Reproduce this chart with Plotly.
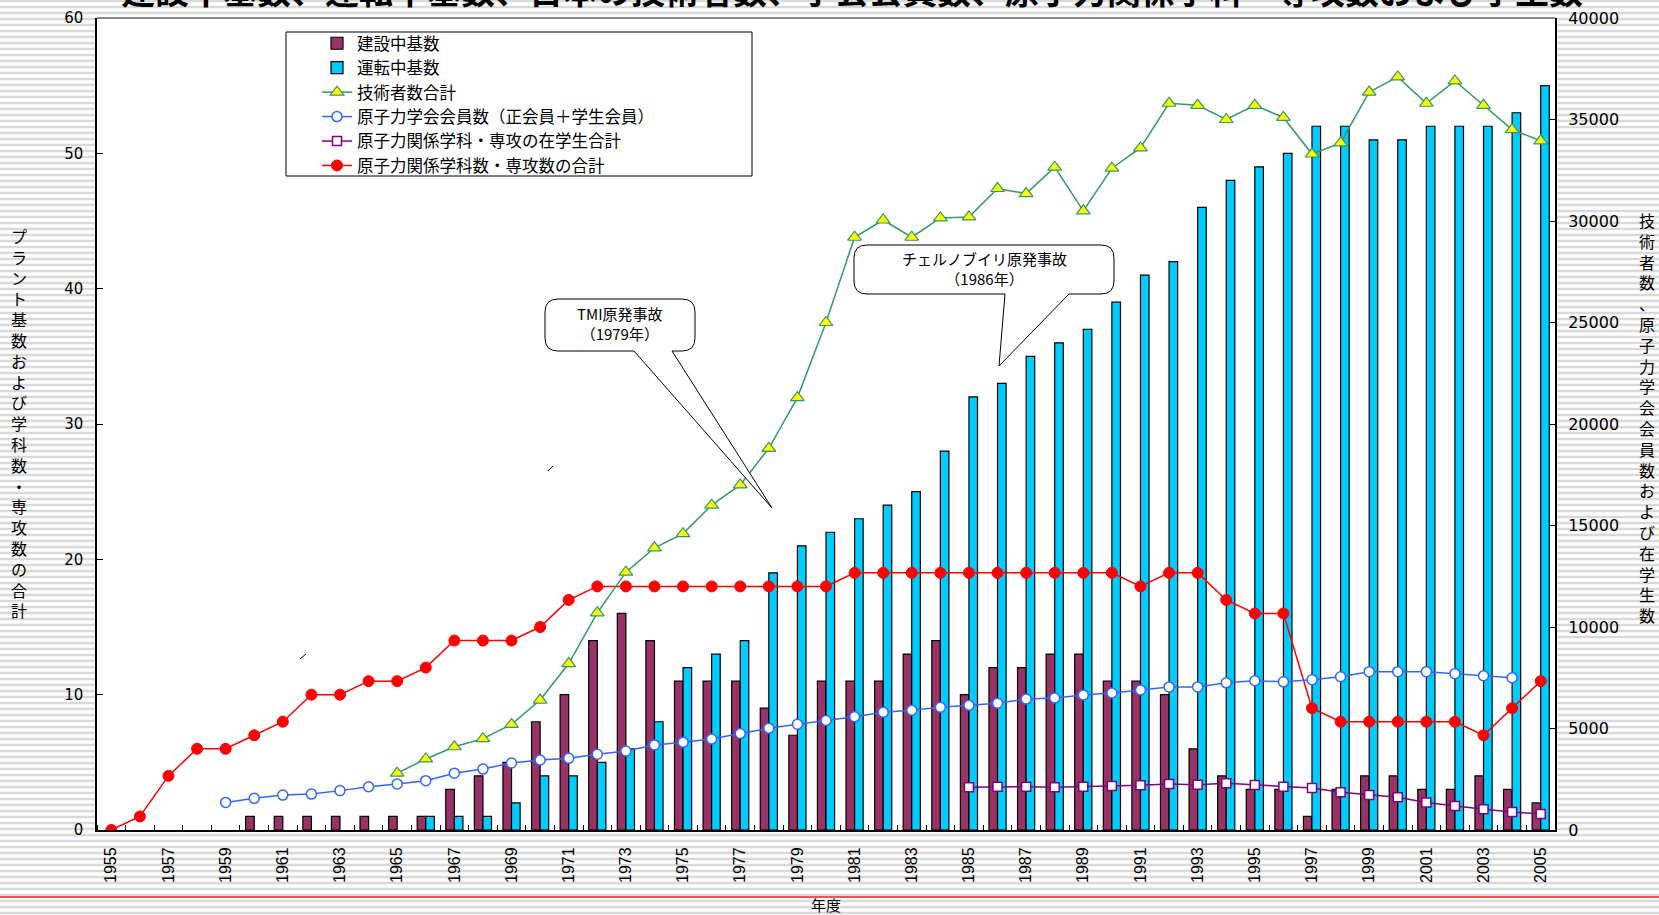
import plotly.graph_objects as go

# ---------------- data ----------------
years = list(range(1955, 2006))
under_construction = [None] * 5 + [
    1, 1, 1, 1, 1, 1, 1, 3, 4, 5,
    8, 10, 14, 16, 14, 11, 11, 11, 9, 7,
    11, 11, 11, 13, 14, 10, 12, 12, 13, 13,
    11, 11, 10, 6, 4, 3, 3, 1, 3, 4,
    4, 3, 3, 4, 3, 2]
in_operation = [None] * 11 + [
    1, 1, 1, 2,
    4, 4, 5, 6, 8, 12, 13, 14, 19, 21,
    22, 23, 24, 25, 28, 32, 33, 35, 36, 37,
    39, 41, 42, 46, 48, 49, 50, 52, 52, 51,
    51, 52, 52, 52, 53, 55]
engineer_years = years[10:]          # 1965-2005
engineers = [2800, 3500, 4100, 4500, 5200,
             6400, 8200, 10700, 12700, 13900, 14600, 16000, 17000, 18800, 21300,
             25000, 29200, 30050, 29200, 30150, 30200, 31600, 31350, 32650, 30500,
             32600, 33600, 35800, 35700, 35000, 35700, 35100, 33300, 33850, 36350,
             37100, 35800, 36900, 35700, 34500, 33950]
member_years = years[4:50]           # 1959-2004
members = [1360, 1560, 1720, 1770, 1940, 2130, 2270, 2430, 2800, 3000, 3300,
           3450, 3530, 3730, 3890, 4190, 4320, 4480, 4750, 5010, 5210,
           5390, 5580, 5800, 5900, 6050, 6150, 6250, 6450, 6500, 6650,
           6750, 6900, 7050, 7050, 7250, 7350, 7300, 7400, 7550, 7800,
           7800, 7800, 7700, 7600, 7500]
student_years = years[30:]           # 1985-2005
students = [2100, 2130, 2130, 2100, 2130, 2170, 2200, 2270, 2230, 2300,
            2220, 2130, 2070, 1860, 1720, 1610, 1350, 1180, 1020, 890, 790]
departments = [0, 1, 4, 6, 6, 7, 8, 10, 10, 11,
               11, 12, 14, 14, 14, 15, 17, 18, 18, 18,
               18, 18, 18, 18, 18, 18, 19, 19, 19, 19,
               19, 19, 19, 19, 19, 19, 18, 19, 19, 17,
               16, 16, 9, 8, 8, 8, 8, 8, 7, 9, 11]
tick_years = years[::2]
tick_labels = [str(y) for y in tick_years]

title_text = "建設中基数、運転中基数、日本の技術者数、学会会員数、原子力関係学科・専攻数および学生数"
left_title = "プラント基数および学科数・専攻数の合計"
right_title = "技術者数、原子力学会会員数および在学生数"

# ---------------- layout helpers ----------------
W, H = 1659, 915
PL, PR, PT, PB = 97, 1555, 18, 830


def px(x):
    return (x - PL) / (PR - PL)


def py(y):
    return (PB - y) / (PB - PT)


JP = "Noto Sans CJK JP"
NUM = "DejaVu Sans"

fig = go.Figure()
fig.add_trace(go.Bar(name="建設中基数", x=years, y=under_construction,
                     marker=dict(color="#993366", line=dict(color="black", width=1.2))))
fig.add_trace(go.Bar(name="運転中基数", x=years, y=in_operation,
                     marker=dict(color="#00CCFF", line=dict(color="black", width=1.2))))
fig.add_trace(go.Scatter(name="技術者数合計", x=engineer_years, y=engineers, yaxis="y2",
                         mode="lines+markers", line=dict(color="#339966", width=1.5),
                         marker=dict(symbol="triangle-up", size=12, color="#FFFF00",
                                     line=dict(color="#339966", width=1.2))))
fig.add_trace(go.Scatter(name="原子力学会会員数（正会員＋学生会員）", x=member_years, y=members,
                         yaxis="y2", mode="lines+markers", line=dict(color="#3366FF", width=1.5),
                         marker=dict(symbol="circle", size=10, color="white",
                                     line=dict(color="#3366FF", width=1.5))))
fig.add_trace(go.Scatter(name="原子力関係学科・専攻の在学生合計", x=student_years, y=students,
                         yaxis="y2", mode="lines+markers", line=dict(color="#800080", width=1.5),
                         marker=dict(symbol="square", size=9, color="white",
                                     line=dict(color="#800080", width=1.5))))
fig.add_trace(go.Scatter(name="原子力関係学科数・専攻数の合計", x=years, y=departments,
                         mode="lines+markers", line=dict(color="#FF0000", width=1.5),
                         marker=dict(symbol="circle", size=11, color="#FF0000",
                                     line=dict(color="#FF0000", width=1))))

# ---------------- shapes ----------------
shapes = []
# striped slide background (outside the plot area)
segs = []
y = 1
while y < H:
    if PT <= y <= PB:
        ranges = [(0, PL), (PR, W)]
    else:
        ranges = [(0, W)]
    for a, b in ranges:
        segs.append(f"M{px(a):.5f},{py(y):.5f}L{px(b):.5f},{py(y):.5f}")
    y += 6
shapes.append(dict(type="path", xref="paper", yref="paper", path="".join(segs),
                   line=dict(color="#D9D9D9", width=2.5), layer="below"))
# red separator line
shapes.append(dict(type="line", xref="paper", yref="paper", x0=px(0), x1=px(W),
                   y0=py(897), y1=py(897), line=dict(color="#E02020", width=1.3)))
# top border of plot area
shapes.append(dict(type="line", xref="paper", yref="paper", x0=0, x1=1, y0=1, y1=1,
                   line=dict(color="#888888", width=2.2)))
# legend box
shapes.append(dict(type="rect", xref="paper", yref="paper", x0=px(286), x1=px(752),
                   y0=py(32), y1=py(176), fillcolor="white",
                   line=dict(color="black", width=1), layer="above"))


def bubble(x0, y0, x1, y1, r, b1, b2, tip):
    tx, ty = tip
    pts = [
        ("M", (x0 + r, y0)), ("L", (x1 - r, y0)), ("Q", (x1, y0), (x1, y0 + r)),
        ("L", (x1, y1 - r)), ("Q", (x1, y1), (x1 - r, y1)),
        ("L", (b2, y1)), ("L", (tx, ty)), ("L", (b1, y1)),
        ("L", (x0 + r, y1)), ("Q", (x0, y1), (x0, y1 - r)),
        ("L", (x0, y0 + r)), ("Q", (x0, y0), (x0 + r, y0)),
    ]
    out = []
    for p in pts:
        cmd = p[0]
        coords = " ".join(f"{px(a):.5f},{py(b):.5f}" for a, b in p[1:])
        out.append(cmd + coords)
    return "".join(out) + "Z"


shapes.append(dict(type="path", xref="paper", yref="paper",
                   path=bubble(545, 299, 695, 351, 13, 634, 672, (772, 508)),
                   fillcolor="white", line=dict(color="black", width=1), layer="above"))
shapes.append(dict(type="path", xref="paper", yref="paper",
                   path=bubble(854, 245, 1114, 294, 13, 1005, 1069, (999, 366)),
                   fillcolor="white", line=dict(color="black", width=1), layer="above"))
# small stray strokes present in the original slide
for (a, b, c, d) in [(548, 471, 553, 466), (300, 659, 306, 654)]:
    shapes.append(dict(type="line", xref="paper", yref="paper", x0=px(a), y0=py(b),
                       x1=px(c), y1=py(d), line=dict(color="black", width=1)))

# ---------------- annotations ----------------
annotations = [
    dict(text=title_text, xref="paper", yref="paper", x=px(852), y=py(16.5),
         xanchor="center", yanchor="bottom", showarrow=False,
         font=dict(family=JP, size=34, color="black", weight=700)),
    dict(text="<br>".join(left_title), xref="paper", yref="paper", x=px(19), y=py(423),
         xanchor="center", yanchor="middle", showarrow=False,
         font=dict(family=JP, size=16, color="black")),
    dict(text="<br>".join(right_title), xref="paper", yref="paper", x=px(1647), y=py(418),
         xanchor="center", yanchor="middle", showarrow=False,
         font=dict(family=JP, size=16, color="black")),
    dict(text="TMI原発事故<br>（1979年）", xref="paper", yref="paper", x=px(620), y=py(323),
         xanchor="center", yanchor="middle", showarrow=False,
         font=dict(family=JP, size=15, color="black")),
    dict(text="チェルノブイリ原発事故<br>（1986年）", xref="paper", yref="paper", x=px(984),
         y=py(268), xanchor="center", yanchor="middle", showarrow=False,
         font=dict(family=JP, size=15, color="black")),
]

fig.update_layout(
    width=W, height=H, autosize=False,
    margin=dict(l=PL, r=W - PR, t=PT, b=H - PB, pad=0, autoexpand=False),
    paper_bgcolor="white", plot_bgcolor="white",
    barmode="group", bargap=0.4, bargroupgap=0,
    showlegend=True,
    legend=dict(x=px(317), y=py(26), xanchor="left", yanchor="top",
                font=dict(family=JP, size=16.5, color="black"),
                bgcolor="rgba(0,0,0,0)", borderwidth=0, tracegroupgap=0,
                traceorder="normal"),
    xaxis=dict(range=[1954.5, 2005.5], tickmode="array", tickvals=tick_years,
               ticktext=tick_labels, tickangle=-90, ticks="", showgrid=False,
               zeroline=False, showline=True, linecolor="black", linewidth=2,
               automargin=False, ticklabelstandoff=9,
               tickfont=dict(family="Liberation Sans Narrow, Arial Narrow, Liberation Sans, Arial",
                             size=16, color="black"),
               minor=dict(tick0=1954.5, dtick=1, ticks="inside", ticklen=5,
                          tickcolor="black", tickwidth=1, showgrid=False),
               title=dict(text="年度", font=dict(family=JP, size=15, color="black"),
                          standoff=22)),
    yaxis=dict(range=[0, 60], dtick=10, ticks="inside", ticklen=6, tickcolor="black",
               showline=True, linecolor="black", linewidth=1.5, showgrid=False,
               zeroline=False, ticklabelstandoff=9, automargin=False,
               tickfont=dict(family=NUM, size=15, color="black")),
    yaxis2=dict(range=[0, 40000], dtick=5000, overlaying="y", side="right",
                ticks="inside", ticklen=6, tickcolor="black", showline=True,
                linecolor="black", linewidth=2, showgrid=False, zeroline=False,
                ticklabelstandoff=8, automargin=False, tickformat="d",
                tickfont=dict(family=NUM, size=16, color="black")),
    shapes=shapes,
    annotations=annotations,
)

fig.write_html("out.html")
